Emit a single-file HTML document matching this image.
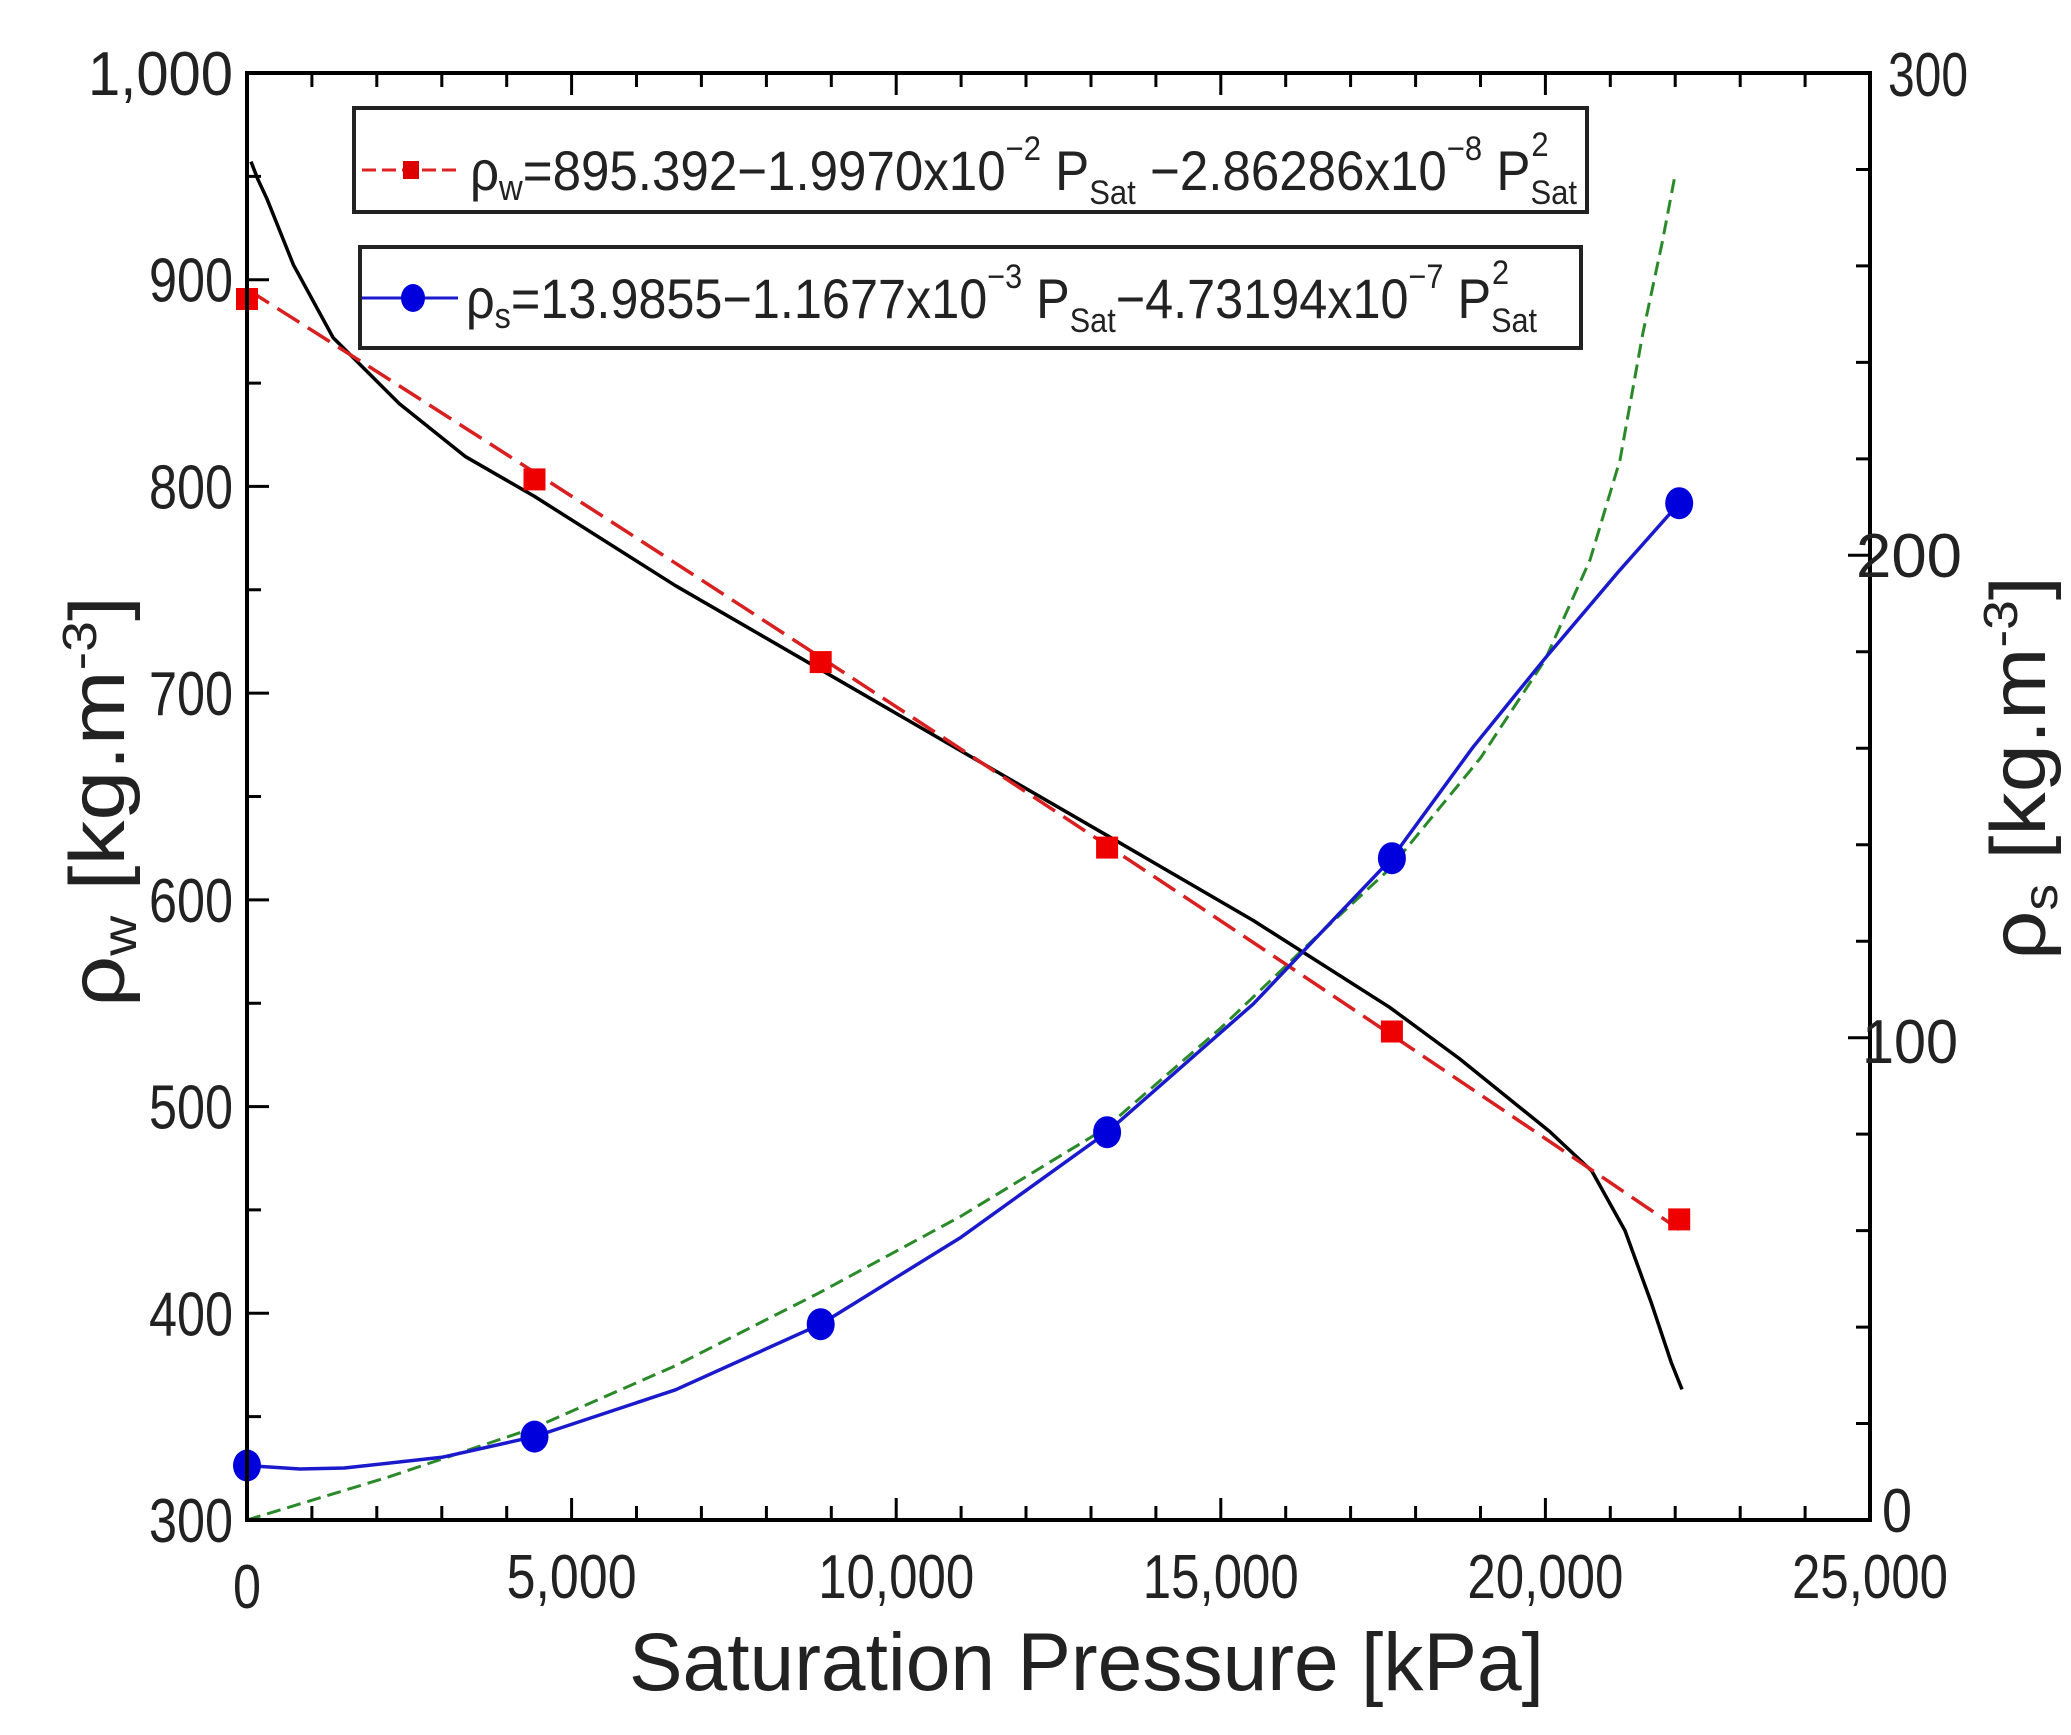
<!DOCTYPE html>
<html><head><meta charset="utf-8"><style>html,body{margin:0;padding:0;background:#fff}svg{display:block}</style></head>
<body>
<svg width="2071" height="1735" viewBox="0 0 2071 1735" xmlns="http://www.w3.org/2000/svg" font-family="Liberation Sans, sans-serif">
<rect width="2071" height="1735" fill="#fff"/>
<g stroke="#000" stroke-width="3">
<path d="M247,1520v-22M311.9,1520v-14M376.8,1520v-14M441.8,1520v-14M506.7,1520v-14M571.6,1520v-22M636.5,1520v-14M701.4,1520v-14M766.4,1520v-14M831.3,1520v-14M896.2,1520v-22M961.1,1520v-14M1026,1520v-14M1091,1520v-14M1155.9,1520v-14M1220.8,1520v-22M1285.7,1520v-14M1350.6,1520v-14M1415.6,1520v-14M1480.5,1520v-14M1545.4,1520v-22M1610.3,1520v-14M1675.2,1520v-14M1740.2,1520v-14M1805.1,1520v-14M1870,1520v-22"/>
<path d="M247,73v22M311.9,73v14M376.8,73v14M441.8,73v14M506.7,73v14M571.6,73v22M636.5,73v14M701.4,73v14M766.4,73v14M831.3,73v14M896.2,73v22M961.1,73v14M1026,73v14M1091,73v14M1155.9,73v14M1220.8,73v22M1285.7,73v14M1350.6,73v14M1415.6,73v14M1480.5,73v14M1545.4,73v22M1610.3,73v14M1675.2,73v14M1740.2,73v14M1805.1,73v14M1870,73v22"/>
<path d="M247,1520h22M247,1416.6h14M247,1313.3h22M247,1209.9h14M247,1106.6h22M247,1003.2h14M247,899.9h22M247,796.5h14M247,693.1h22M247,589.8h14M247,486.4h22M247,383.1h14M247,279.7h22M247,176.4h14M247,73h22"/>
<path d="M1870,1520h-22M1870,1423.5h-14M1870,1327.1h-14M1870,1230.6h-14M1870,1134.1h-14M1870,1037.7h-22M1870,941.2h-14M1870,844.7h-14M1870,748.3h-14M1870,651.8h-14M1870,555.3h-22M1870,458.9h-14M1870,362.4h-14M1870,265.9h-14M1870,169.5h-14M1870,73h-22"/>
</g>
<g fill="none" stroke-linejoin="round">
<polyline stroke="#2a8a2a" stroke-width="3" stroke-dasharray="14,7" points="247,1520 389.8,1476.6 532.6,1428.4 675.5,1365.7 818.3,1293.3 961.1,1216.1 1104,1129.3 1220.8,1028 1311.7,941.2 1389.6,868.9 1480.5,758 1545,660 1590,560 1620,460 1642.8,333.5 1662.3,242 1675.2,174.3"/>
<polyline stroke="#000" stroke-width="3.5" points="251,161.6 257.6,178.8 266.9,198.7 293.4,264.8 333.1,337.6 399.4,403.8 465.6,456.7 534.5,496.4 675.5,585.7 818.3,668.3 961.1,751 1104,833.7 1253.3,920.5 1389.6,1007.3 1459.4,1058.6 1549.5,1131.4 1591.9,1171.1 1625,1230.6 1651.5,1303.4 1671.4,1362.9 1682,1389.4"/>
<path stroke="#d82020" stroke-width="3.5" stroke-dasharray="26,10" d="M247,289.2 Q963.1,741.9 1679.2,1229.4"/>
<polyline stroke="#1a1acc" stroke-width="3.5" points="247,1465.5 300,1469 344.4,1468 441.8,1457.3 534.5,1436.6 675.5,1389.8 820.7,1324.2 961.1,1237.2 1107.1,1132.2 1253.3,1003.9 1391.9,858.2 1472.6,747.7 1545.5,657.8 1618.4,571.8 1679.2,503.2"/>
</g>
<g fill="#e00">
<rect x="236" y="288" width="22" height="22"/><rect x="523.5" y="468.4" width="22" height="22"/><rect x="809.7" y="651.1" width="22" height="22"/><rect x="1096.1" y="836.6" width="22" height="22"/><rect x="1380.9" y="1020.5" width="22" height="22"/><rect x="1668.2" y="1208.4" width="22" height="22"/>
</g>
<g fill="#0000dd">
<ellipse cx="247" cy="1465.5" rx="14" ry="16"/><ellipse cx="534.5" cy="1436.6" rx="14" ry="16"/><ellipse cx="820.7" cy="1324.2" rx="14" ry="16"/><ellipse cx="1107.1" cy="1132.2" rx="14" ry="16"/><ellipse cx="1391.9" cy="858.2" rx="14" ry="16"/><ellipse cx="1679.2" cy="503.2" rx="14" ry="16"/>
</g>
<rect x="247" y="73" width="1623" height="1447" fill="none" stroke="#000" stroke-width="4"/>
<g font-size="62" fill="#222" text-anchor="end">
<text x="233" y="95" textLength="145" lengthAdjust="spacingAndGlyphs">1,000</text>
<text x="233" y="301.7" textLength="84" lengthAdjust="spacingAndGlyphs">900</text>
<text x="233" y="508.4" textLength="84" lengthAdjust="spacingAndGlyphs">800</text>
<text x="233" y="715" textLength="84" lengthAdjust="spacingAndGlyphs">700</text>
<text x="233" y="922" textLength="84" lengthAdjust="spacingAndGlyphs">600</text>
<text x="233" y="1128.6" textLength="84" lengthAdjust="spacingAndGlyphs">500</text>
<text x="233" y="1335.3" textLength="84" lengthAdjust="spacingAndGlyphs">400</text>
<text x="233" y="1542" textLength="84" lengthAdjust="spacingAndGlyphs">300</text>
</g>
<g font-size="62" fill="#222" text-anchor="middle">
<text x="247" y="1608" textLength="28" lengthAdjust="spacingAndGlyphs">0</text>
<text x="571.6" y="1598" textLength="130" lengthAdjust="spacingAndGlyphs">5,000</text>
<text x="896.2" y="1598" textLength="156" lengthAdjust="spacingAndGlyphs">10,000</text>
<text x="1220.8" y="1598" textLength="156" lengthAdjust="spacingAndGlyphs">15,000</text>
<text x="1545.4" y="1598" textLength="156" lengthAdjust="spacingAndGlyphs">20,000</text>
<text x="1870" y="1598" textLength="156" lengthAdjust="spacingAndGlyphs">25,000</text>
</g>
<g font-size="62" fill="#222">
<text x="1882" y="1532" textLength="30" lengthAdjust="spacingAndGlyphs">0</text>
<text x="1862" y="1063" textLength="96" lengthAdjust="spacingAndGlyphs">100</text>
<text x="1856" y="577" textLength="106" lengthAdjust="spacingAndGlyphs">200</text>
<text x="1888" y="96" textLength="80" lengthAdjust="spacingAndGlyphs">300</text>
</g>
<rect x="354" y="108" width="1233" height="104" fill="#fff" stroke="#222" stroke-width="4"/>
<rect x="360" y="247" width="1221" height="101" fill="#fff" stroke="#222" stroke-width="4"/>
<line x1="362" y1="170" x2="458" y2="170" stroke="#d22" stroke-width="3" stroke-dasharray="14,6"/>
<rect x="403" y="161" width="16" height="18" fill="#d00"/>
<line x1="362" y1="298" x2="458" y2="298" stroke="#1a1acc" stroke-width="3"/>
<ellipse cx="413" cy="298" rx="12" ry="14" fill="#0000dd"/>
<text x="470" y="190" font-size="56" fill="#222" textLength="1107" lengthAdjust="spacingAndGlyphs">ρ<tspan font-size="36" dy="10">w</tspan><tspan dy="-10">=895.392−1.9970x10</tspan><tspan font-size="34" dy="-30">−2</tspan><tspan dy="30"> P</tspan><tspan font-size="34" dy="14">Sat</tspan><tspan dy="-14"> −2.86286x10</tspan><tspan font-size="34" dy="-30">−8</tspan><tspan dy="30"> P</tspan><tspan font-size="34" dy="14">Sat</tspan><tspan font-size="34" dx="-50" dy="-48">2</tspan></text>
<text x="466" y="318" font-size="56" fill="#222" textLength="1071" lengthAdjust="spacingAndGlyphs">ρ<tspan font-size="36" dy="10">s</tspan><tspan dy="-10">=13.9855−1.1677x10</tspan><tspan font-size="34" dy="-30">−3</tspan><tspan dy="30"> P</tspan><tspan font-size="34" dy="14">Sat</tspan><tspan dy="-14">−4.73194x10</tspan><tspan font-size="34" dy="-30">−7</tspan><tspan dy="30"> P</tspan><tspan font-size="34" dy="14">Sat</tspan><tspan font-size="34" dx="-50" dy="-48">2</tspan></text>
<text x="629" y="1690" font-size="82" fill="#222" textLength="915" lengthAdjust="spacingAndGlyphs">Saturation Pressure [kPa]</text>
<text transform="translate(124,1007) rotate(-90)" font-size="78" fill="#222" textLength="411" lengthAdjust="spacingAndGlyphs">ρ<tspan font-size="48" dy="12">w</tspan><tspan dy="-12"> [kg.m</tspan><tspan font-size="48" dy="-28">-3</tspan><tspan dy="28">]</tspan></text>
<text transform="translate(2045,960) rotate(-90)" font-size="78" fill="#222" textLength="384" lengthAdjust="spacingAndGlyphs">ρ<tspan font-size="48" dy="12">s</tspan><tspan dy="-12"> [kg.m</tspan><tspan font-size="48" dy="-28">-3</tspan><tspan dy="28">]</tspan></text>
</svg>
</body></html>
